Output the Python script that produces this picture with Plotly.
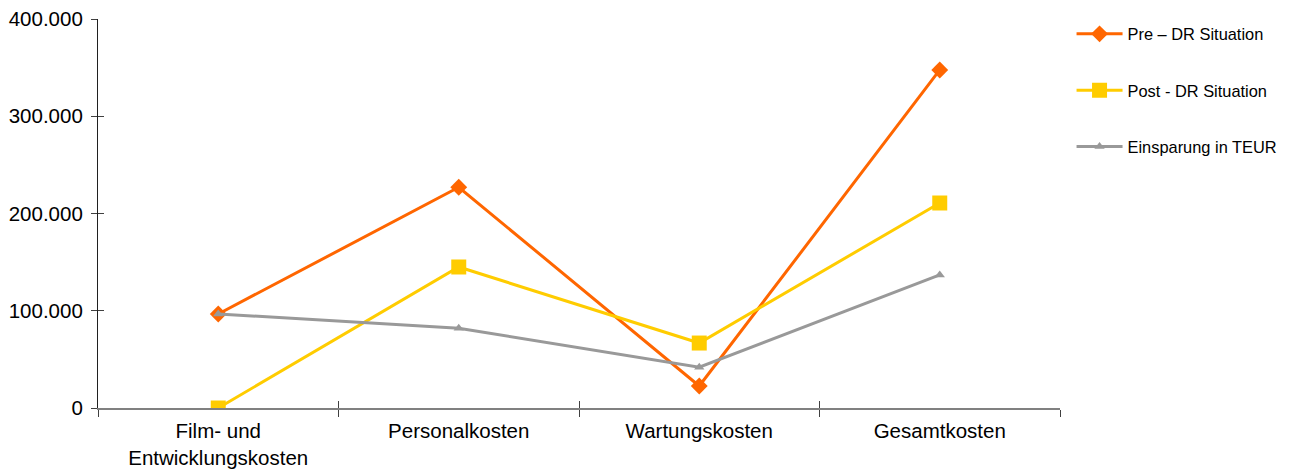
import plotly.graph_objects as go

categories = ["Film- und<br>Entwicklungskosten", "Personalkosten", "Wartungskosten", "Gesamtkosten"]
pre_dr = [96700, 227000, 22600, 347600]
post_dr = [0, 145000, 66800, 210800]
einsparung = [96700, 82000, 42000, 136800]
series_names = ["Pre – DR Situation", "Post - DR Situation", "Einsparung in TEUR"]
y_ticks = [0, 100000, 200000, 300000, 400000]

FONT = "Liberation Sans, Arial, sans-serif"

fig = go.Figure()
specs = [
    (pre_dr, series_names[0], "#FF6600", "diamond", 13),
    (post_dr, series_names[1], "#FFCC00", "square", 15),
    (einsparung, series_names[2], "#999999", "triangle-up", 9),
]
for i, (vals, name, col, sym, sz) in enumerate(specs):
    fig.add_trace(go.Scatter(
        x=categories, y=vals, name=name, mode="lines+markers",
        line=dict(color=col, width=3),
        marker=dict(symbol=sym, size=sz, color=col),
        legendgroup=f"g{i}", hoverinfo="skip",
    ))
# invisible trace to carry the overlaid axes (inner half of cross ticks)
fig.add_trace(go.Scatter(x=categories, y=pre_dr, xaxis="x2", yaxis="y2",
                         mode="markers", marker=dict(opacity=0), showlegend=False,
                         hoverinfo="skip"))

fig.update_layout(
    width=1286, height=462,
    margin=dict(l=90, r=234, t=11, b=62, autoexpand=False),
    paper_bgcolor="white", plot_bgcolor="white",
    separators=",.",
    font=dict(family=FONT, color="black"),
    showlegend=True,
    legend=dict(x=1.012, xanchor="left", y=1.006, yanchor="top",
                xref="paper", yref="paper",
                font=dict(size=16.4, family=FONT), tracegroupgap=32,
                traceorder="grouped", itemwidth=46, bgcolor="rgba(0,0,0,0)"),
    xaxis=dict(type="category", range=[-0.5, 3.5], showgrid=False, automargin=False,
               showline=True, linecolor="#808080", linewidth=1.5,
               ticks="outside", ticklen=7, tickcolor="#404040", tickwidth=1,
               tickson="boundaries", tickfont=dict(size=20.5, family=FONT),
               ticklabelstandoff=4, zeroline=False, ticklabeloverflow="allow"),
    yaxis=dict(range=[0, 400000], tickvals=y_ticks, tickformat=",d", automargin=False,
               showgrid=False, showline=True, linecolor="#202020", linewidth=1.2,
               ticks="outside", ticklen=6, tickcolor="#404040",
               tickfont=dict(size=20.5, family=FONT), ticklabelstandoff=4,
               zeroline=False, ticklabeloverflow="allow"),
    xaxis2=dict(type="category", overlaying="x", matches="x", range=[-0.5, 3.5],
                showgrid=False, showline=False, ticks="inside", ticklen=7,
                automargin=False,
                tickcolor="#404040", tickson="boundaries", showticklabels=False,
                zeroline=False),
    yaxis2=dict(overlaying="y", matches="y", range=[0, 400000], tickvals=y_ticks,
                showgrid=False, showline=False, ticks="inside", ticklen=6,
                automargin=False,
                tickcolor="#404040", showticklabels=False, zeroline=False),
)

fig.write_html("out.html")
